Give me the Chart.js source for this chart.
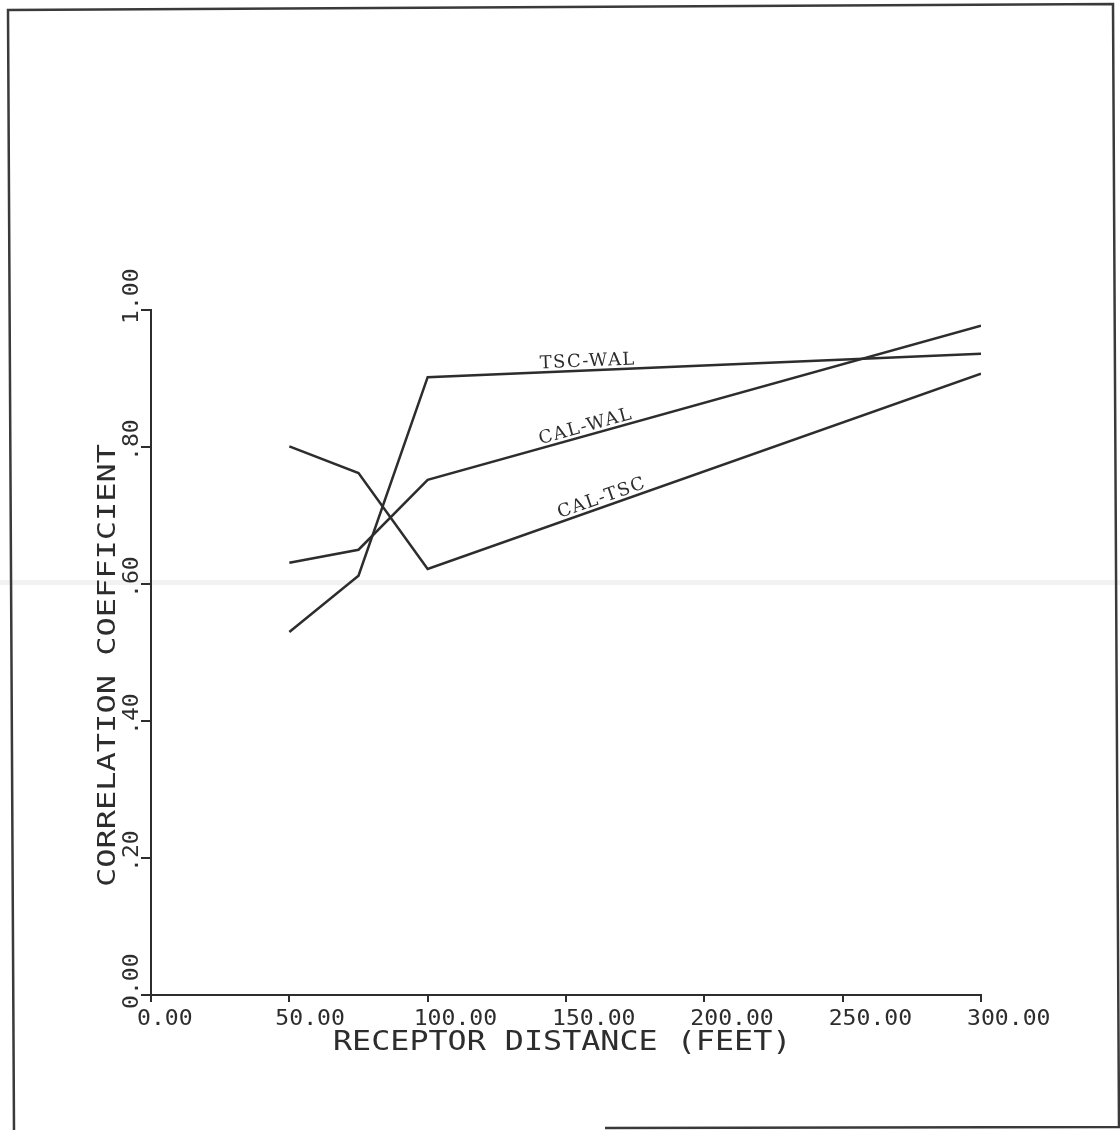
<!DOCTYPE html>
<html>
<head>
<meta charset="utf-8">
<script src="https://cdn.jsdelivr.net/npm/chart.js@4.4.1/dist/chart.umd.min.js"></script>
<style>
  html, body { margin: 0; padding: 0; background: #fff; }
  #wrap { width: 1120px; height: 1130px; }
</style>
</head>
<body>
<div id="wrap"><canvas id="chart" width="1120" height="1130"></canvas></div>
<script>
// receptor distance (feet) of each station
const distances = [50, 75, 100, 300];

// correlation coefficient for each pair of samplers
const tscWal = [0.530, 0.612, 0.902, 0.936];
const calWal = [0.631, 0.650, 0.752, 0.977];
const calTsc = [0.801, 0.762, 0.622, 0.907];

const seriesNames = ['TSC-WAL', 'CAL-WAL', 'CAL-TSC'];

const xTicks = [0, 50, 100, 150, 200, 250, 300];
const xTickLabels = ['0.00', '50.00', '100.00', '150.00', '200.00', '250.00', '300.00'];
const yTicks = [0, 0.2, 0.4, 0.6, 0.8, 1.0];
const yTickLabels = ['0.00', '.20', '.40', '.60', '.80', '1.00'];

const xTitle = 'RECEPTOR DISTANCE (FEET)';
const yTitle = 'CORRELATION COEFFICIENT';

const INK = '#2d2d2d';
const PLOT_FONT = '"DejaVu Sans Mono", monospace';
const LABEL_FONT = '"DejaVu Serif", serif';

// how far along the last segment each curve label sits
const labelSpots = [0.29, 0.29, 0.32];

function toPoints(ys) {
    return distances.map((d, i) => ({ x: d, y: ys[i] }));
}

// plotter lettering is wide, so glyphs get stretched sideways
function drawText(ctx, str, x, y, angle, font, stretch, align) {
    ctx.save();
    ctx.translate(x, y);
    ctx.rotate(angle);
    ctx.scale(stretch, 1);
    ctx.font = font;
    ctx.textAlign = align || 'left';
    ctx.textBaseline = 'alphabetic';
    ctx.fillText(str, 0, 0);
    ctx.restore();
}

const paperPlugin = {
    id: 'paper',
    beforeDraw(chart) {
        const ctx = chart.ctx;
        ctx.save();
        ctx.fillStyle = '#fff';
        ctx.fillRect(0, 0, chart.width, chart.height);
        // faint crease across the sheet
        ctx.fillStyle = 'rgba(0,0,0,0.05)';
        ctx.fillRect(0, 580, chart.width, 5);
        // sheet border
        ctx.strokeStyle = '#3a3a3a';
        ctx.lineWidth = 2.5;
        ctx.beginPath();
        ctx.moveTo(14, 1130);
        ctx.lineTo(8, 10);
        ctx.lineTo(1113, 4);
        ctx.lineTo(1119, 1127);
        ctx.lineTo(605, 1128);
        ctx.stroke();
        ctx.restore();
    }
};

const textPlugin = {
    id: 'plotText',
    afterDraw(chart) {
        const ctx = chart.ctx;
        const xs = chart.scales.x;
        const ys = chart.scales.y;
        const area = chart.chartArea;
        ctx.save();
        ctx.fillStyle = INK;

        // tick labels start one character before the tick
        xTicks.forEach((v, i) => {
            const px = xs.getPixelForValue(v);
            drawText(ctx, xTickLabels[i], px - 14, area.bottom + 30, 0, '22px ' + PLOT_FONT, 1.05);
        });
        yTicks.forEach((v, i) => {
            const py = ys.getPixelForValue(v);
            drawText(ctx, yTickLabels[i], area.left - 13, py + 14, -Math.PI / 2, '22px ' + PLOT_FONT, 1.05);
        });

        // axis titles
        drawText(ctx, xTitle, area.left + 182, area.bottom + 55, 0, '26px ' + PLOT_FONT, 1.22);
        drawText(ctx, yTitle, area.left - 36, area.bottom - 108, -Math.PI / 2, '25px ' + PLOT_FONT, 1.28);

        // curve names written along the final segment of each line
        chart.data.datasets.forEach((ds, i) => {
            const pts = chart.getDatasetMeta(i).data;
            const a = pts[pts.length - 2];
            const b = pts[pts.length - 1];
            const t = labelSpots[i];
            const x = a.x + (b.x - a.x) * t;
            const y = a.y + (b.y - a.y) * t;
            const ang = Math.atan2(b.y - a.y, b.x - a.x);
            ctx.save();
            ctx.translate(x, y);
            ctx.rotate(ang);
            ctx.font = '18px ' + LABEL_FONT;
            ctx.letterSpacing = '1.5px';
            ctx.textAlign = 'center';
            ctx.textBaseline = 'alphabetic';
            ctx.fillText(ds.label, 0, -4);
            ctx.restore();
        });
        ctx.restore();
    }
};

const datasets = [tscWal, calWal, calTsc].map((ys, i) => ({
    label: seriesNames[i],
    data: toPoints(ys),
    borderColor: INK,
    borderWidth: 2.5,
    pointRadius: 0,
    tension: 0,
    fill: false
}));

new Chart(document.getElementById('chart'), {
    type: 'line',
    data: { datasets: datasets },
    options: {
        responsive: false,
        animation: false,
        layout: { padding: { left: 141, right: 139, top: 310, bottom: 128 } },
        plugins: {
            legend: { display: false },
            tooltip: { enabled: false }
        },
        scales: {
            x: {
                type: 'linear',
                min: 0,
                max: 300,
                afterBuildTicks: s => { s.ticks = xTicks.map(v => ({ value: v })); },
                ticks: { display: false },
                grid: { drawOnChartArea: false, tickLength: 7, color: INK, lineWidth: 2 },
                border: { color: INK, width: 2 }
            },
            y: {
                type: 'linear',
                min: 0,
                max: 1,
                afterBuildTicks: s => { s.ticks = yTicks.map(v => ({ value: v })); },
                ticks: { display: false },
                grid: { drawOnChartArea: false, tickLength: 10, color: INK, lineWidth: 2 },
                border: { color: INK, width: 2 }
            }
        }
    },
    plugins: [paperPlugin, textPlugin]
});
</script>
</body>
</html>
